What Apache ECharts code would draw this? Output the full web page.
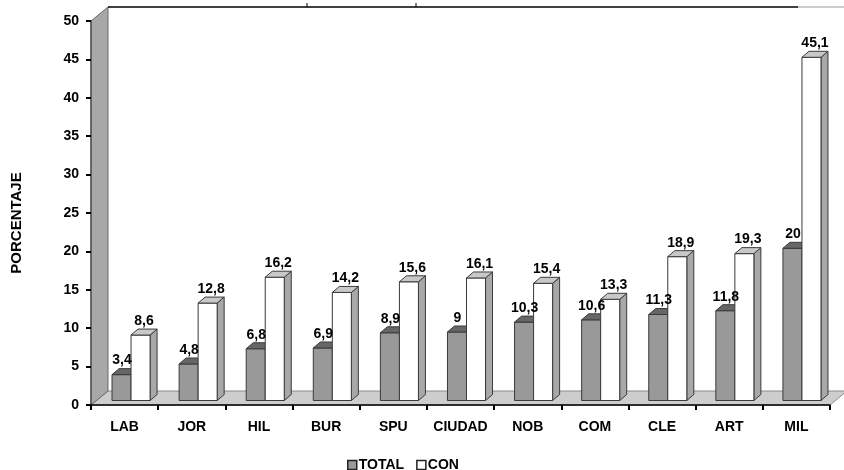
<!DOCTYPE html>
<html>
<head>
<meta charset="utf-8">
<script src="https://cdn.jsdelivr.net/npm/echarts@6/dist/echarts.min.js"></script>
<style>html,body{margin:0;padding:0;background:#fff}#c{width:844px;height:470px}</style>
</head>
<body>
<div id="c"></div>
<script>
var categories = ['LAB','JOR','HIL','BUR','SPU','CIUDAD','NOB','COM','CLE','ART','MIL'];
var totalValues = [3.4, 4.8, 6.8, 6.9, 8.9, 9, 10.3, 10.6, 11.3, 11.8, 20];
var conValues = [8.6, 12.8, 16.2, 14.2, 15.6, 16.1, 15.4, 13.3, 18.9, 19.3, 45.1];
var yTicks = [0, 50, 5];

var FONT = "'Liberation Sans', Arial, sans-serif";
var DX = 7, DY = -6;

function fmt(v){ return String(v).replace('.', ','); }

function makeRender(side, c){
  return function(params, api){
    var idx = api.value(0), v = api.value(1);
    var top = api.coord([idx, v]);
    var base = api.coord([idx, 0]);
    var band = api.size([1, 0])[0];
    var w = band * 19 / 67;
    var x0 = side < 0 ? top[0] - w : top[0];
    var yT = top[1], yB = base[1];
    var x1 = x0 + w;
    return {
      type: 'group',
      children: [
        {type:'polygon', shape:{points:[[x1,yT],[x1,yB],[x1+DX,yB+DY],[x1+DX,yT+DY]]},
          style:{fill:c.side, stroke:c.stroke, lineWidth:1}},
        {type:'rect', shape:{x:x0, y:yT, width:w, height:yB-yT},
          style:{fill:c.front, stroke:c.stroke, lineWidth:1}},
        {type:'polygon', shape:{points:[[x0,yT],[x1,yT],[x1+DX,yT+DY],[x0+DX,yT+DY]]},
          style:{fill:c.top, stroke:c.stroke, lineWidth:1}},
        {type:'text', z2: 100, x:x0 + w/2 + DX/2 + c.lx, y:yT + DY - 1,
          style:{text:fmt(v), fill:'#000', font:'bold 14px ' + FONT, align:'center', verticalAlign:'bottom'}}
      ]
    };
  };
}

var chart = echarts.init(document.getElementById('c'));
var option = {
  animation: false,
  backgroundColor: '#fff',
  grid: [
    {left: 91, right: 14, top: 21, bottom: 65},
    {left: 97.5, right: 8.5, top: 20, bottom: 69.5}
  ],
  xAxis: [
    {gridIndex:0, type:'category', data:categories, boundaryGap:true,
      axisLine:{show:true, lineStyle:{color:'#000', width:1.5}},
      axisTick:{show:true, length:5, interval:0, lineStyle:{color:'#000', width:2}},
      axisLabel:{margin:15, interval:0, color:'#000', fontWeight:'bold', fontSize:14, fontFamily:FONT},
      z: 5},
    {gridIndex:1, type:'category', data:categories, boundaryGap:true, show:false}
  ],
  yAxis: [
    {gridIndex:0, type:'value', min:yTicks[0], max:yTicks[1], interval:yTicks[2],
      axisLine:{show:true, lineStyle:{color:'#555', width:1.5}},
      axisTick:{show:true, length:5, lineStyle:{color:'#000', width:2}},
      axisLabel:{margin:12, color:'#000', fontWeight:'bold', fontSize:14, fontFamily:FONT},
      splitLine:{show:false},
      name:'PORCENTAJE', nameLocation:'middle', nameGap:67, nameRotate:90,
      nameTextStyle:{color:'#000', fontWeight:'bold', fontSize:15, fontFamily:FONT, padding:[0,0,0,-20]},
      z: 5},
    {gridIndex:1, type:'value', min:yTicks[0], max:yTicks[1], show:false}
  ],
  legend: {
    left: 342, top: 453, itemWidth: 9, itemHeight: 9, itemGap: 12,
    icon: 'rect',
    textStyle:{color:'#000', fontWeight:'bold', fontSize:14, fontFamily:FONT, padding:[0,0,0,-3]},
    data: [
      {name:'TOTAL', itemStyle:{color:'#9a9a9a', borderColor:'#222', borderWidth:1.5}},
      {name:'CON', itemStyle:{color:'#fff', borderColor:'#222', borderWidth:1.5}}
    ]
  },
  graphic: [
    {type:'polygon', shape:{points:[[91,405],[830,405],[847,391],[108,391]]},
      style:{fill:'#cdcdcd', stroke:'#8a8a8a', lineWidth:1}, z:0},
    {type:'polygon', shape:{points:[[91,405],[91,21],[108,7],[108,391]]},
      style:{fill:'#a8a8a8', stroke:'#6a6a6a', lineWidth:1}, z:0},
    {type:'line', shape:{x1:108, y1:7, x2:798, y2:7}, style:{stroke:'#000', lineWidth:1.5}, z:0},
    {type:'line', shape:{x1:798, y1:7, x2:844, y2:7}, style:{stroke:'#bbb', lineWidth:1.5}, z:0},
    {type:'line', shape:{x1:307, y1:3, x2:307, y2:7}, style:{stroke:'#000', lineWidth:1}, z:0},
    {type:'line', shape:{x1:416, y1:3, x2:416, y2:7}, style:{stroke:'#000', lineWidth:1}, z:0}
  ],
  series: [
    {name:'TOTAL', type:'custom', xAxisIndex:1, yAxisIndex:1, clip:false, z:3,
      itemStyle:{color:'#9a9a9a'},
      renderItem: makeRender(-1, {front:'#999999', top:'#666666', side:'#7a7a7a', stroke:'#3a3a3a', lx:-3}),
      encode:{x:0, y:1},
      data: totalValues.map(function(v,i){return [i, v];})},
    {name:'CON', type:'custom', xAxisIndex:1, yAxisIndex:1, clip:false, z:3,
      itemStyle:{color:'#fff'},
      renderItem: makeRender(1, {front:'#ffffff', top:'#c8c8c8', side:'#a8a8a8', stroke:'#3a3a3a', lx:0}),
      encode:{x:0, y:1},
      data: conValues.map(function(v,i){return [i, v];})}
  ]
};
chart.setOption(option);
</script>
</body>
</html>
